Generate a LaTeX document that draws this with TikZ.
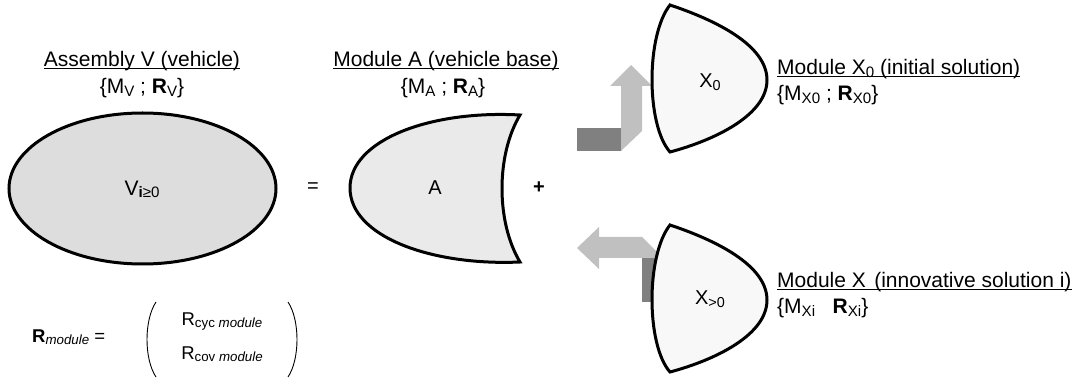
\documentclass[tikz,border=0pt]{standalone}
\usepackage{fontspec}
\setmainfont{Liberation Sans}
\newcommand{\mysub}[1]{\smash{\raisebox{-0.13em}{\scalebox{0.72}{#1}}}}
\newsavebox\myulbox
\newcommand{\myul}[1]{\sbox\myulbox{#1}\rlap{\rule[-2.6pt]{\wd\myulbox}{1.3pt}}\usebox\myulbox}
\definecolor{vfill}{HTML}{DDDDDD}
\definecolor{afill}{HTML}{EAEAEA}
\definecolor{xfill}{HTML}{F8F8F8}
\definecolor{arlight}{HTML}{C0C0C0}
\definecolor{ardark}{HTML}{808080}
\begin{document}
\begin{tikzpicture}[x=1pt,y=-1pt,
  shapeline/.style={draw=black, line width=3pt},
  hdr/.style={inner sep=0pt, font=\fontsize{21}{25}\selectfont},
  inlbl/.style={inner sep=0pt, font=\fontsize{20}{24}\selectfont},
  frm/.style={inner sep=0pt, font=\fontsize{18.5}{22}\selectfont},
  paren/.style={draw=black, line width=0.9pt}]
\useasboundingbox (0,0) rectangle (1082,382);

% arrows (behind the X shapes)
\fill[ardark] (577,128) rectangle (621,151);
\fill[arlight] (621,151) -- (642,131) -- (642,86) -- (652,86) -- (631,65) -- (610,86) -- (621,86) -- cycle;
\fill[ardark] (642,257) rectangle (665,302);
\fill[arlight] (577,248) -- (599,227) -- (599,237) -- (642,237) -- (663,258) -- (599,258) -- (599,269) -- cycle;

% assembly V
\draw[shapeline, fill=vfill] (142.5,188.5) ellipse [x radius=133.5, y radius=75.5];
% module A
\draw[shapeline, fill=afill] (520,115) .. controls (430,110) and (350,140) .. (350,188)
  .. controls (350,236) and (430,266) .. (520,262)
  .. controls (496,222) and (496,155) .. cycle;
% module X0
\draw[shapeline, fill=xfill] (670,5) .. controls (715,20) and (767,45) .. (767,80)
  .. controls (767,115) and (715,140) .. (670,152)
  .. controls (646,125) and (646,35) .. cycle;
% module X>0
\begin{scope}[shift={(0,220)}]
\draw[shapeline, fill=xfill] (670,5) .. controls (715,20) and (767,45) .. (767,80)
  .. controls (767,115) and (715,140) .. (670,152)
  .. controls (646,125) and (646,35) .. cycle;
\end{scope}

% labels
\node[hdr] (hv) at (142,61) {\myul{Assembly V (vehicle)}};
\node[hdr] (mv) at (142,88) {\{M\mysub{V} ; \textbf{R}\mysub{V}\}};
\node[hdr] (ha) at (446,61) {\myul{Module A (vehicle base)}};
\node[hdr] (ma) at (443,88) {\{M\mysub{A} ; \textbf{R}\mysub{A}\}};
\node[inlbl, font=\fontsize{21}{25}\selectfont] (lv) at (142,188) {V\mysub{\textbf{i}≥0}};
\node[inlbl] (eq) at (313,188) {=};
\node[inlbl] (la) at (435,188) {A};
\node[inlbl] (pl) at (539,188) {\textbf{+}};
\node[inlbl] (lx0) at (710,81) {X\mysub{0}};
\node[inlbl] (lxi) at (710,298) {X\mysub{>0}};
\node[hdr, anchor=west] (hx0) at (777,69) {\myul{Module X\mysub{0} (initial solution)}};
\node[hdr, anchor=west] (mx0) at (777,95) {\{M\mysub{X0} ; \textbf{R}\mysub{X0}\}};
\node[hdr, anchor=west] (hxi) at (777,282) {\myul{Module X\mysub{\,} (innovative solution i)}};
\node[hdr, anchor=west] (mxi) at (777,308) {\{M\mysub{Xi} \ \ \textbf{R}\mysub{Xi}\}};

% R module formula
\node[frm, anchor=west] (rm) at (32,336) {\textbf{R}\mysub{\itshape module} =};
\node[frm] (rc) at (222,319) {R\mysub{cyc \itshape module}};
\node[frm] (rv) at (222,353) {R\mysub{cov \itshape module}};
\draw[paren] (156,302) .. controls (144,320) and (144,359) .. (156,377);
\draw[paren] (288,302) .. controls (300,320) and (300,359) .. (288,377);
\end{tikzpicture}
\end{document}
